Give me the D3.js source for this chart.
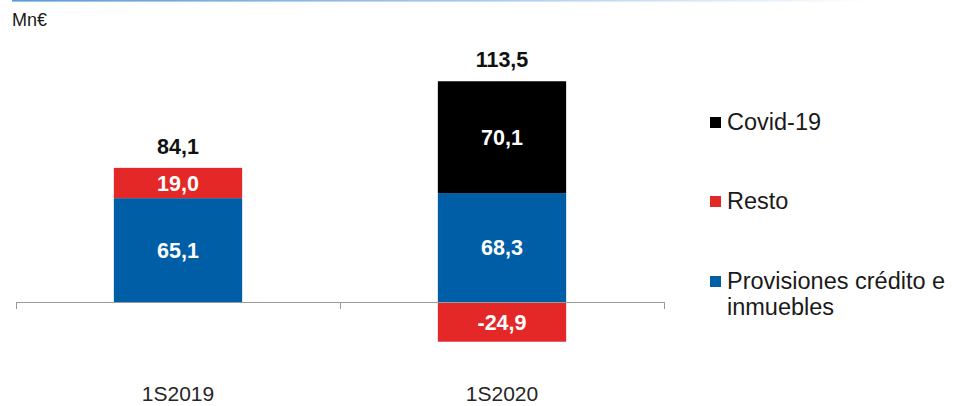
<!DOCTYPE html>
<html>
<head>
<meta charset="utf-8">
<script src="https://cdn.jsdelivr.net/npm/d3@7"></script>
<style>
  html, body { margin: 0; padding: 0; background: #fff; overflow: hidden; }
  text { font-family: "Liberation Sans", Arial, sans-serif; }
</style>
</head>
<body>
<div id="chart"></div>
<script>
// ---------- data ------------------//
var categories = ["1S2019", "1S2020"];
var seriesNames = ["Provisiones crédito e inmuebles", "Resto", "Covid-19"];
var provisiones = [65.1, 68.3];
var resto = [19.0, -24.9];
var covid = [0, 70.1];
var totals = [84.1, 113.5];
var legendOrder = ["Covid-19", "Resto", "Provisiones crédito e inmuebles"];
var unitLabel = "Mn€";

var width = 953,
    height = 406;

var color = d3.scaleOrdinal()
    .domain(seriesNames)
    .range(["#005ea6", "#e42828", "#000000"]);

// spanish number format: one decimal, comma, plain hyphen
var fmt = function(v) {
    return d3.format(".1f")(v).replace(".", ",").replace("\u2212", "-");
};

var svg = d3.select("#chart").append("svg")
    .attr("width", width)
    .attr("height", height);

// faded rule at the top
var grad = svg.append("defs").append("linearGradient")
    .attr("id", "topline")
    .attr("x1", "0%").attr("x2", "100%");
grad.append("stop").attr("offset", "0%").attr("stop-color", "#5b9bd5");
grad.append("stop").attr("offset", "55%").attr("stop-color", "#a9cbea");
grad.append("stop").attr("offset", "100%").attr("stop-color", "#ffffff");
svg.append("rect")
    .attr("x", 12).attr("y", 0)
    .attr("width", 860).attr("height", 1.6)
    .attr("fill", "url(#topline)");

svg.append("text")
    .attr("x", 12).attr("y", 26)
    .style("font-size", "18px")
    .attr("fill", "#1a1a1a")
    .text(unitLabel);

// build rows for stacking
var rows = categories.map(function(c, i) {
    var r = { cat: c };
    r[seriesNames[0]] = provisiones[i];
    r[seriesNames[1]] = resto[i];
    r[seriesNames[2]] = covid[i];
    return r;
});

var stack = d3.stack()
    .keys(seriesNames)
    .offset(d3.stackOffsetDiverging);
var layers = stack(rows);

var x = d3.scaleBand()
    .domain(categories)
    .range([16, 664])
    .paddingInner(0.604)
    .paddingOuter(0.302);

// 0 sits at y=302, 138.4 at y≈81
var y = d3.scaleLinear()
    .domain([-30, 150])
    .range([302 + 30 * 1.595, 302 - 150 * 1.595]);

// bars
var g = svg.selectAll("g.layer")
    .data(layers)
    .enter()
    .append("g")
    .attr("class", "layer")
    .attr("fill", function(d) { return color(d.key); });

g.selectAll("rect")
    .data(function(d) { return d.map(function(v) { v.key = d.key; return v; }); })
    .enter()
    .append("rect")
    .filter(function(d) { return d[1] - d[0] !== 0; })
    .attr("x", function(d) { return x(d.data.cat); })
    .attr("width", x.bandwidth())
    .attr("y", function(d) { return y(d[1]); })
    .attr("height", function(d) { return y(d[0]) - y(d[1]); });

// segment labels
g.selectAll("text")
    .data(function(d) { return d.filter(function(v) { return v[1] - v[0] !== 0; }); })
    .enter()
    .append("text")
    .attr("x", function(d) { return x(d.data.cat) + x.bandwidth() / 2; })
    .attr("y", function(d) { return (y(d[0]) + y(d[1])) / 2; })
    .attr("dy", "0.36em")
    .attr("text-anchor", "middle")
    .style("font-size", "21.5px")
    .style("font-weight", "bold")
    .attr("fill", "#ffffff")
    .text(function(d) { return fmt(d.data[d.key]); });

// totals above the bars
svg.selectAll("text.total")
    .data(categories)
    .enter()
    .append("text")
    .attr("class", "total")
    .attr("x", function(c) { return x(c) + x.bandwidth() / 2; })
    .attr("y", function(c, i) {
        var top = d3.max(layers, function(l) { return l[i][1]; });
        return y(top) - 14;
    })
    .attr("text-anchor", "middle")
    .style("font-size", "21.5px")
    .style("font-weight", "bold")
    .attr("fill", "#111")
    .text(function(c, i) { return fmt(totals[i]); });

// axis line with ticks between categories
var axisY = y(0);
svg.append("line")
    .attr("x1", x.range()[0]).attr("x2", x.range()[1])
    .attr("y1", axisY + 0.5).attr("y2", axisY + 0.5)
    .attr("stroke", "#9a9a9a").attr("stroke-width", 1);

var bounds = d3.range(categories.length + 1).map(function(i) {
    return x.range()[0] + i * x.step();
});
svg.selectAll("line.tick")
    .data(bounds)
    .enter()
    .append("line")
    .attr("class", "tick")
    .attr("x1", function(d) { return Math.round(d) + 0.5; })
    .attr("x2", function(d) { return Math.round(d) + 0.5; })
    .attr("y1", axisY)
    .attr("y2", axisY + 7)
    .attr("stroke", "#9a9a9a");

svg.selectAll("text.cat")
    .data(categories)
    .enter()
    .append("text")
    .attr("class", "cat")
    .attr("x", function(c) { return x(c) + x.bandwidth() / 2; })
    .attr("y", 401)
    .attr("text-anchor", "middle")
    .style("font-size", "21px")
    .attr("fill", "#262626")
    .text(function(c) { return c; });

// legend
var legendY = [130, 209, 289];
var leg = svg.selectAll("g.legend")
    .data(legendOrder)
    .enter()
    .append("g")
    .attr("class", "legend")
    .attr("transform", function(d, i) { return "translate(710," + legendY[i] + ")"; });

leg.append("rect")
    .attr("x", 0).attr("y", -13)
    .attr("width", 11).attr("height", 11)
    .attr("fill", function(d) { return color(d); });

leg.append("text")
    .attr("x", 17)
    .style("font-size", "23.5px")
    .attr("fill", "#1a1a1a")
    .each(function(d) {
        var t = d3.select(this);
        var parts = d === seriesNames[0] ? ["Provisiones crédito e", "inmuebles"] : [d];
        parts.forEach(function(p, i) {
            t.append("tspan")
                .attr("x", 17)
                .attr("dy", i === 0 ? 0 : 26)
                .text(p);
        });
    });
</script>
</body>
</html>
